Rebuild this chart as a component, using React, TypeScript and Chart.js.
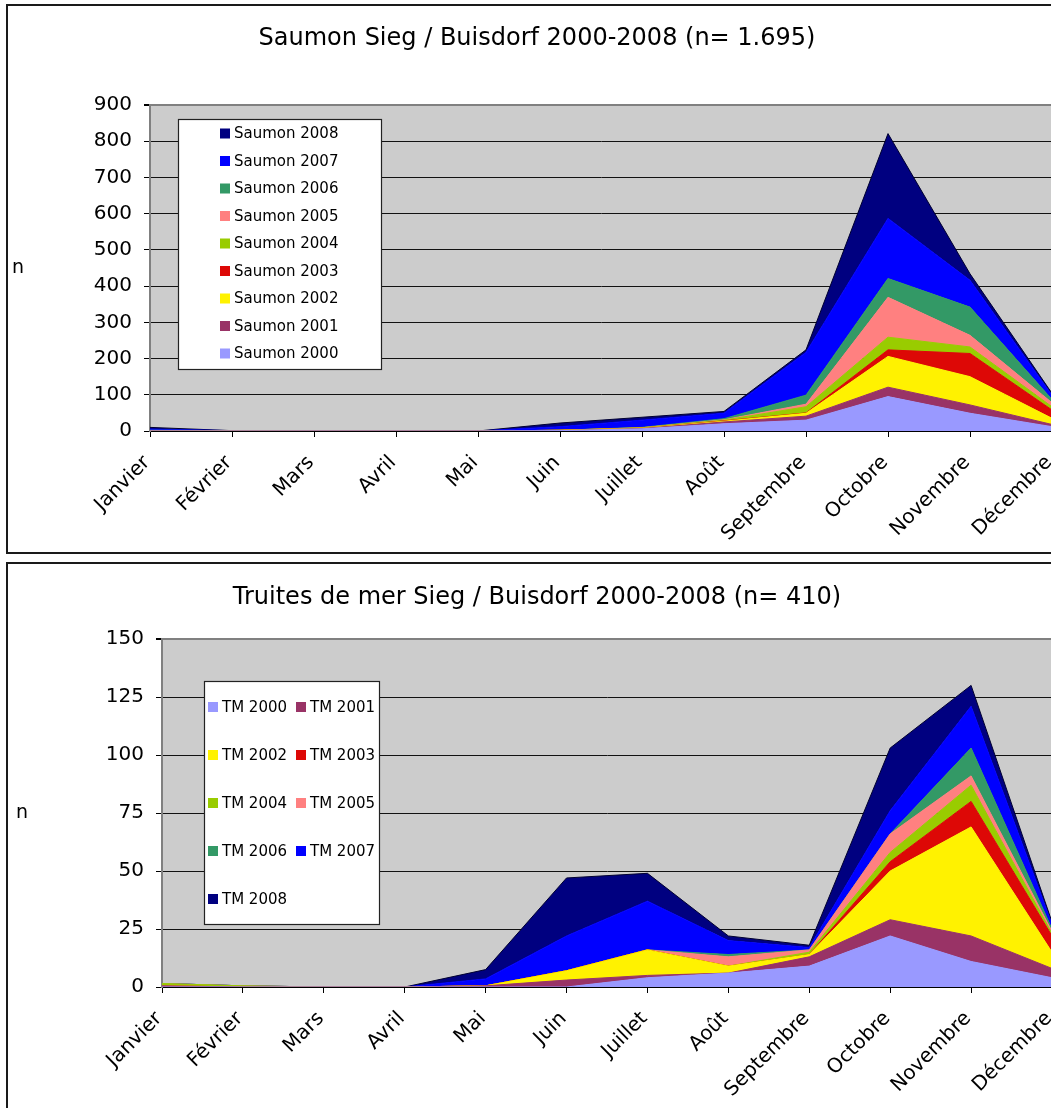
import React, { useEffect, useRef } from 'react';
import { Chart, registerables } from 'chart.js';

Chart.register(...registerables);

const MONTHS = ['Janvier', 'Février', 'Mars', 'Avril', 'Mai', 'Juin', 'Juillet', 'Août', 'Septembre', 'Octobre', 'Novembre', 'Décembre'];
const YEARS = ['2000', '2001', '2002', '2003', '2004', '2005', '2006', '2007', '2008'];
const COLORS = ['#9999FF', '#993366', '#FFF200', '#DD0806', '#99CC00', '#FF8080', '#339966', '#0000FF', '#000080'];

// Saumon (salmon) monthly counts per year
const saumon2000 = [0, 0, 0, 0, 0, 1, 6, 20, 30, 95, 49, 12];
const saumon2001 = [0, 0, 0, 0, 0, 0, 1, 5, 11, 26, 23, 6];
const saumon2002 = [0, 0, 0, 0, 0, 1, 1, 2, 8, 85, 78, 17];
const saumon2003 = [0, 0, 0, 0, 0, 0, 0, 1, 1, 18, 64, 23];
const saumon2004 = [1, 1, 0, 0, 0, 0, 1, 2, 17, 35, 18, 9];
const saumon2005 = [0, 0, 0, 0, 0, 0, 0, 1, 7, 110, 32, 11];
const saumon2006 = [1, 0, 0, 0, 0, 0, 1, 3, 25, 52, 78, 9];
const saumon2007 = [3, 0, 0, 0, 0, 10, 20, 15, 118, 166, 74, 12];
const saumon2008 = [5, 0, 0, 0, 0, 10, 8, 5, 7, 234, 18, 5];

// Truites de mer (sea trout) monthly counts per year
const tm2000 = [0, 0, 0, 0, 0, 0, 4, 6, 9, 22, 11, 4];
const tm2001 = [0.5, 0, 0, 0, 0.5, 3, 1, 0, 4, 7, 11, 4];
const tm2002 = [0, 0, 0, 0, 0, 4, 11, 3, 1, 21, 47, 7];
const tm2003 = [0, 0, 0, 0, 0, 0, 0, 0, 0, 4, 11, 7];
const tm2004 = [1, 0.5, 0, 0, 0, 0, 0, 0, 1, 4, 7, 1];
const tm2005 = [0, 0, 0, 0, 0, 0, 0, 4, 1, 8, 4, 1];
const tm2006 = [0, 0, 0, 0, 0, 0, 0, 1, 0, 0, 12, 1];
const tm2007 = [0, 0, 0, 0, 3, 15, 21, 6, 1, 10, 18, 2];
const tm2008 = [0, 0, 0, 0, 4, 25, 12, 2, 1, 27, 9, 1];

const SAUMON_SERIES = [saumon2000, saumon2001, saumon2002, saumon2003, saumon2004, saumon2005, saumon2006, saumon2007, saumon2008];
const TM_SERIES = [tm2000, tm2001, tm2002, tm2003, tm2004, tm2005, tm2006, tm2007, tm2008];

const FONT = '"DejaVu Sans", Verdana, sans-serif';

const decorPlugin = {
  id: 'decor',
  beforeDraw(chart: any, _args: any, opts: any) {
    const { ctx, chartArea: a } = chart;
    ctx.save();
    ctx.fillStyle = '#cccccc';
    ctx.fillRect(a.left, a.top, a.right - a.left, a.bottom - a.top);
    ctx.restore();
  },
  afterDraw(chart: any, _args: any, opts: any) {
    const ctx = chart.ctx;
    ctx.save();
    ctx.fillStyle = '#000';
    ctx.textAlign = 'center';
    ctx.textBaseline = 'middle';
    ctx.font = `${opts.titleSize}px ${FONT}`;
    ctx.fillText(opts.title, opts.titleX, opts.titleY);
    ctx.font = `${opts.nSize}px ${FONT}`;
    ctx.fillText('n', opts.nX, opts.nY);

    const L = opts.legend;
    ctx.fillStyle = '#fff';
    ctx.fillRect(L.x, L.y, L.w, L.h);
    ctx.strokeStyle = '#222';
    ctx.lineWidth = 1.2;
    ctx.strokeRect(L.x + 0.5, L.y + 0.5, L.w, L.h);
    ctx.font = `${L.fontSize}px ${FONT}`;
    ctx.textAlign = 'left';
    const ds = chart.data.datasets;
    const order = L.reverse ? ds.map((_: any, i: number) => ds.length - 1 - i) : ds.map((_: any, i: number) => i);
    order.forEach((di: number, k: number) => {
      const row = Math.floor(k / L.cols);
      const col = k % L.cols;
      const cy = L.y + L.firstY + row * L.rowH;
      const sx = L.x + L.sqX + col * L.colW;
      const tx = L.x + L.txtX + col * L.colW;
      ctx.fillStyle = ds[di].backgroundColor;
      ctx.fillRect(sx, cy - 5, 10, 10);
      ctx.fillStyle = '#000';
      ctx.fillText(ds[di].label, tx, cy + 1);
    });
    ctx.restore();
  },
};

function makeConfig(series: number[][], prefix: string, yMax: number, yStep: number, geo: any) {
  const datasets = series.map((vals, i) => ({
    label: `${prefix} ${YEARS[i]}`,
    data: vals,
    backgroundColor: COLORS[i],
    borderColor: i === series.length - 1 ? '#000030' : COLORS[i],
    borderWidth: 1,
    pointRadius: 0,
    tension: 0,
    fill: i === 0 ? 'origin' : '-1',
  }));
  return {
    type: 'line' as const,
    data: { labels: MONTHS, datasets },
    plugins: [decorPlugin],
    options: {
      animation: false,
      responsive: true,
      maintainAspectRatio: false,
      layout: { padding: { left: 0, top: geo.top, right: geo.right, bottom: 0 } },
      plugins: {
        legend: { display: false },
        title: { display: false },
        tooltip: { enabled: false },
        decor: geo.decor,
      },
      scales: {
        x: {
          type: 'category',
          offset: false,
          grid: { display: true, drawOnChartArea: false, drawTicks: true, tickLength: 6, color: '#000', tickColor: '#000' },
          border: { display: true, color: '#000', width: 2 },
          ticks: {
            autoSkip: false,
            minRotation: 45,
            maxRotation: 45,
            padding: 14,
            labelOffset: -3,
            color: '#000',
            font: { family: FONT, size: 20 },
          },
          afterFit: (s: any) => {
            s.height = geo.xHeight;
            s.paddingLeft = 0;
            s.paddingRight = 0;
          },
        },
        y: {
          stacked: true,
          min: 0,
          max: yMax,
          ticks: { stepSize: yStep, padding: 12, color: '#000', font: { family: FONT, size: 20 } },
          grid: {
            color: (c: any) => (c.tick && c.tick.value === yMax ? '#808080' : '#111'),
            tickColor: '#000',
            tickLength: 6,
            lineWidth: (c: any) => (c.tick && c.tick.value === yMax ? 2 : 1),
          },
          border: { display: true, color: '#808080', width: 2 },
          afterFit: (s: any) => { s.width = geo.yWidth; },
        },
      },
    },
  };
}

function ChartBox({ config, style }: { config: any; style: React.CSSProperties }) {
  const ref = useRef<HTMLCanvasElement>(null);
  useEffect(() => {
    if (!ref.current) return;
    const chart = new Chart(ref.current, config);
    return () => chart.destroy();
  }, [config]);
  return (
    <div style={{ position: 'absolute', border: '2px solid #1a1a1a', boxSizing: 'border-box', background: '#fff', ...style }}>
      <div style={{ position: 'relative', width: '100%', height: '100%' }}>
        <canvas ref={ref} />
      </div>
    </div>
  );
}

const config1 = makeConfig(SAUMON_SERIES, 'Saumon', 900, 100, {
  top: 99,
  right: 15,
  xHeight: 121,
  yWidth: 142,
  decor: {
    title: 'Saumon Sieg / Buisdorf 2000-2008 (n= 1.695)',
    titleSize: 24,
    titleX: 529,
    titleY: 33,
    nSize: 19,
    nX: 10,
    nY: 262,
    legend: { x: 170, y: 113, w: 203, h: 250, cols: 1, colW: 0, sqX: 42, txtX: 56, firstY: 14.5, rowH: 27.5, fontSize: 15, reverse: true },
  },
});

const config2 = makeConfig(TM_SERIES, 'TM', 150, 25, {
  top: 75,
  right: 15,
  xHeight: 133,
  yWidth: 154,
  decor: {
    title: 'Truites de mer Sieg / Buisdorf 2000-2008 (n= 410)',
    titleSize: 24,
    titleX: 529,
    titleY: 34,
    nSize: 19,
    nX: 14,
    nY: 249,
    legend: { x: 196, y: 117, w: 175, h: 243, cols: 2, colW: 88, sqX: 4, txtX: 18, firstY: 26, rowH: 48, fontSize: 15, reverse: false },
  },
});

export default function App() {
  return (
    <div style={{ position: 'absolute', left: 0, top: 0, width: 1051, height: 1108, overflow: 'hidden', background: '#fff' }}>
      <ChartBox config={config1} style={{ left: 6, top: 4, width: 1063, height: 550 }} />
      <ChartBox config={config2} style={{ left: 6, top: 562, width: 1063, height: 560 }} />
    </div>
  );
}
